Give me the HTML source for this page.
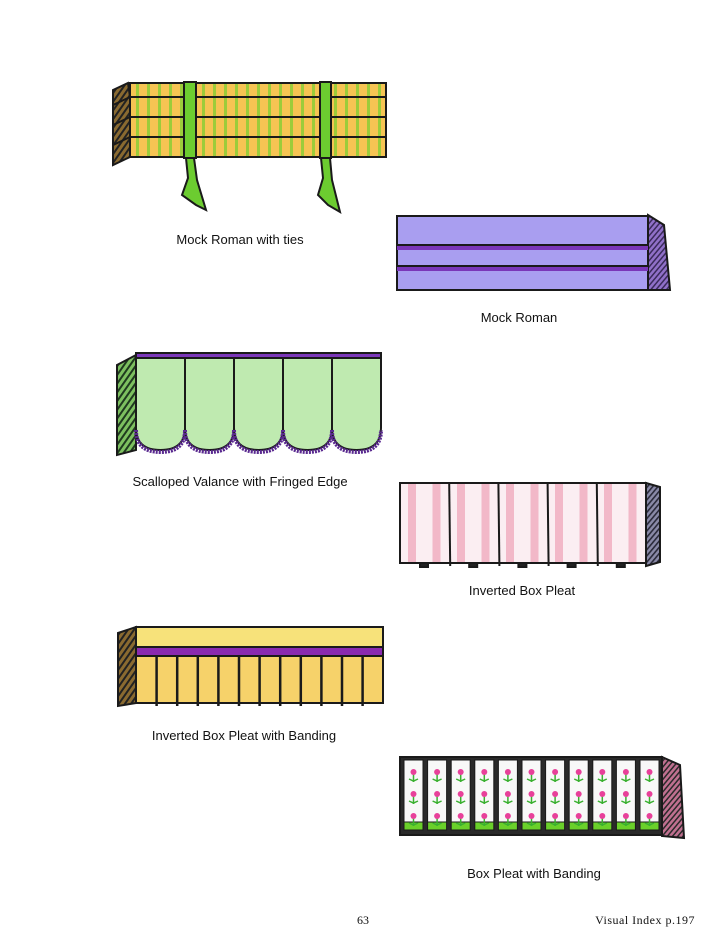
<!DOCTYPE html>
<html><head><meta charset="utf-8"><style>
html,body{margin:0;padding:0;background:#fff;}
svg{display:block}
text{font-family:"Liberation Sans",sans-serif;font-size:13px;fill:#111}
</style></head><body>
<svg id="s" width="724" height="944" viewBox="0 0 724 944" xmlns="http://www.w3.org/2000/svg">
<defs>
<pattern id="ys" width="11" height="20" patternUnits="userSpaceOnUse"><rect width="11" height="20" fill="#f6c453"/><rect x="4" width="3" height="20" fill="#9ccc3a"/></pattern>
<pattern id="hatch" width="5" height="5" patternUnits="userSpaceOnUse" patternTransform="rotate(35)"><rect width="5" height="5" fill="#8a6a30"/><rect width="2" height="5" fill="#222"/></pattern>
<pattern id="ghatch" width="5" height="5" patternUnits="userSpaceOnUse" patternTransform="rotate(35)"><rect width="5" height="5" fill="#7dc060"/><rect width="2" height="5" fill="#1f3a1f"/></pattern>
<pattern id="phatch" width="4" height="4" patternUnits="userSpaceOnUse" patternTransform="rotate(40)"><rect width="4" height="4" fill="#9070c8"/><rect width="1.5" height="4" fill="#3a2a5a"/></pattern>
<pattern id="dhatch" width="4" height="4" patternUnits="userSpaceOnUse" patternTransform="rotate(40)"><rect width="4" height="4" fill="#8a8aa8"/><rect width="1.6" height="4" fill="#2a2a3a"/></pattern>
<pattern id="pk" width="24.5" height="10" patternUnits="userSpaceOnUse" x="400"><rect width="24.5" height="10" fill="#fbeef2"/><rect x="8" width="8" height="10" fill="#f2b8c8"/></pattern>
<pattern id="mhatch" width="4" height="4" patternUnits="userSpaceOnUse" patternTransform="rotate(40)"><rect width="4" height="4" fill="#c07090"/><rect width="1.5" height="4" fill="#2a2a2a"/></pattern>
</defs>

<!-- Mock Roman with ties -->
<g stroke="#1a1a1a" stroke-width="2">
<path d="M113,143 L130,135 L130,157 L113,165 Z" fill="url(#hatch)"/>
<path d="M113,123 L130,115 L130,137 L113,145 Z" fill="url(#hatch)"/>
<path d="M113,103 L130,95 L130,117 L113,125 Z" fill="url(#hatch)"/>
<path d="M113,90 L128,83 L130,97 L113,105 Z" fill="url(#hatch)"/>
<rect x="130" y="137" width="256" height="20" fill="url(#ys)"/>
<rect x="130" y="117" width="256" height="20" fill="url(#ys)"/>
<rect x="130" y="97" width="256" height="20" fill="url(#ys)"/>
<rect x="130" y="83" width="256" height="14" fill="url(#ys)"/>
<rect x="184" y="82" width="12" height="76" fill="#6ccc30"/>
<rect x="320" y="82" width="11" height="76" fill="#6ccc30"/>
<path d="M186,158 L194,158 L197,180 L206,210 L196,205 L182,195 L188,178 Z" fill="#6ccc30"/>
<path d="M321,158 L330,158 L332,180 L340,212 L328,205 L318,195 L323,178 Z" fill="#6ccc30"/>
</g>
<text x="240" y="244" text-anchor="middle">Mock Roman with ties</text>

<!-- Mock Roman -->
<g stroke="#1a1a1a" stroke-width="2">
<path d="M648,215 L664,225 L670,290 L648,290 Z" fill="url(#phatch)"/>
<rect x="397" y="266" width="251" height="24" fill="#a99ef0"/>
<rect x="397" y="266" width="251" height="5" fill="#7a36b8" stroke="none"/>
<rect x="397" y="245" width="251" height="21" fill="#a99ef0"/>
<rect x="397" y="245" width="251" height="5" fill="#7a36b8" stroke="none"/>
<rect x="397" y="216" width="251" height="29" fill="#a99ef0"/>
</g>
<text x="519" y="322" text-anchor="middle">Mock Roman</text>

<!-- Scalloped -->
<g stroke="#1a1a1a" stroke-width="2" id="scal">
<path d="M117,365 L136,355 L136,450 L117,455 Z" fill="url(#ghatch)"/>
</g>
<text x="240" y="486" text-anchor="middle">Scalloped Valance with Fringed Edge</text>

<!-- Inverted Box Pleat -->
<g stroke="#1a1a1a" stroke-width="2" id="ibp">
<path d="M646,483 L660,487 L660,562 L646,566 Z" fill="url(#dhatch)"/>
<rect x="400" y="483" width="246" height="80" fill="url(#pk)"/>
</g>
<text x="522" y="595" text-anchor="middle">Inverted Box Pleat</text>

<!-- Banding -->
<g stroke="#1a1a1a" stroke-width="2" id="band">
<path d="M118,633 L136,627 L136,703 L118,706 Z" fill="url(#hatch)"/>
<rect x="136" y="627" width="247" height="20" fill="#f7e27a"/>
<rect x="136" y="647" width="247" height="9" fill="#8a2ab0"/>
<rect x="136" y="656" width="247" height="47" fill="#f6d26a"/>
</g>
<text x="244" y="740" text-anchor="middle">Inverted Box Pleat with Banding</text>

<!-- Box pleat with banding -->
<g stroke="#1a1a1a" stroke-width="2" id="bp">
<rect x="400" y="757" width="262" height="78" fill="#2a2a2a"/>
<path d="M662,757 L680,765 L684,838 L662,836 Z" fill="url(#mhatch)"/>
</g>
<text x="534" y="878" text-anchor="middle">Box Pleat with Banding</text>

<text x="363" y="924" text-anchor="middle" style="font-family:'Liberation Serif',serif;font-size:12px">63</text>
<text x="695" y="924" text-anchor="end" style="font-family:'Liberation Serif',serif;font-size:12px;letter-spacing:0.5px">Visual Index p.197</text>
</svg>
<script>
var NS="http://www.w3.org/2000/svg";
function el(p,t,a){var e=document.createElementNS(NS,t);for(var k in a)e.setAttribute(k,a[k]);p.appendChild(e);return e;}
var g=document.getElementById("scal");
el(g,"rect",{x:136,y:353,width:245,height:5,fill:"#7a36b8"});
for(var i=0;i<5;i++){var x=136+i*49;
el(g,"path",{d:"M"+x+",358 V428 Q"+x+",450 "+(x+24.5)+",450 Q"+(x+49)+",450 "+(x+49)+",428 V358 Z",fill:"#bfeab0"});
el(g,"path",{d:"M"+x+",430 Q"+x+",452 "+(x+24.5)+",452 Q"+(x+49)+",452 "+(x+49)+",430",fill:"none",stroke:"#5a2a90","stroke-width":4,"stroke-dasharray":"2 1"});}
var b=document.getElementById("ibp");
for(var i=1;i<5;i++){var x=400+i*49.2;el(b,"line",{x1:x,y1:483,x2:x+1,y2:566});}
for(var i=0;i<5;i++){el(b,"rect",{x:400+i*49.2+20,y:563,width:8,height:4,fill:"#222"});}
var c=document.getElementById("band");
for(var i=1;i<12;i++){var x=136+i*20.6;el(c,"line",{x1:x,y1:656,x2:x,y2:706,"stroke-width":2.5});}
var d=document.getElementById("bp");
for(var i=0;i<11;i++){var x=404+i*23.6;
el(d,"rect",{x:x,y:760,width:19,height:62,fill:"#f8f8f8","stroke-width":1});
el(d,"rect",{x:x,y:822,width:19,height:8,fill:"#6ad02a","stroke-width":1});
for(var j=0;j<3;j++){var y=770+j*22;
el(d,"line",{x1:x+9.5,y1:y+3,x2:x+9.5,y2:y+12,stroke:"#3ab030","stroke-width":1.5});
el(d,"path",{d:"M"+(x+5)+","+(y+9)+" L"+(x+9.5)+","+(y+11)+" L"+(x+14)+","+(y+9),fill:"none",stroke:"#3ab030","stroke-width":1.5});
el(d,"circle",{cx:x+9.5,cy:y+2,r:3,fill:"#e8409a",stroke:"none"});}}
</script>
</body></html>
